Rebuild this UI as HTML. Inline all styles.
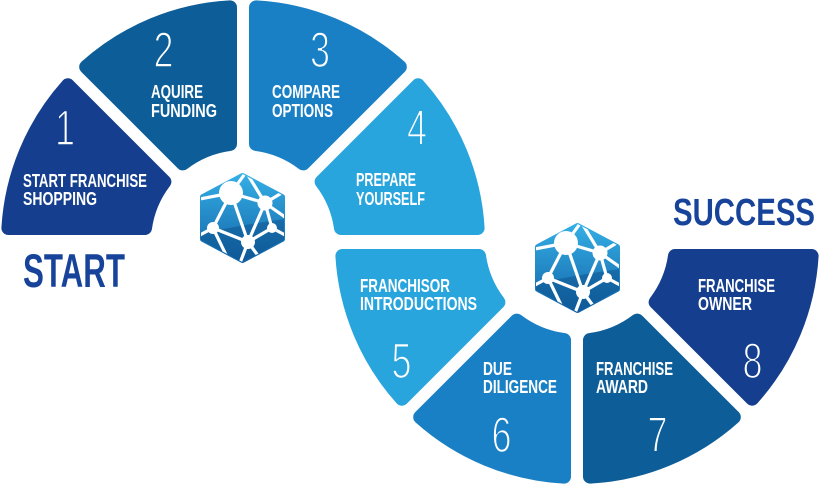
<!DOCTYPE html>
<html><head><meta charset="utf-8"><style>
html,body{margin:0;padding:0;background:#fff;}
svg{display:block;}
.lb{font-family:"Liberation Sans",Arial,sans-serif;font-weight:bold;font-size:18px;fill:#fff;}
.dg{font-family:"DejaVu Sans ExtraLight","Liberation Sans",sans-serif;font-size:50px;fill:#fff;stroke-width:1.6px;paint-order:fill stroke;}
.big{font-family:"Liberation Sans",Arial,sans-serif;font-weight:bold;fill:#17449a;}
</style></head><body>
<svg width="819" height="485" viewBox="0 0 819 485" xmlns="http://www.w3.org/2000/svg">
<defs>
 <linearGradient id="hg" x1="0" y1="0" x2="0" y2="90" gradientUnits="userSpaceOnUse">
  <stop offset="0" stop-color="#35b0e6"/>
  <stop offset="1" stop-color="#1262a6"/>
 </linearGradient>
 <clipPath id="hc"><polygon points="42.5,1 84,23 84,67 42.5,89 1,67 1,23"/></clipPath>
 <g id="hex">
  <polygon points="42.5,3 82,24 82,66 42.5,87 3,66 3,24" fill="url(#hg)" stroke="url(#hg)" stroke-width="6" stroke-linejoin="round"/>
  <path d="M0,61 Q40,52 85,46 L85,90 L0,90 Z" fill="#0b4f8c" opacity="0.5" clip-path="url(#hc)"/>
  <g stroke="#fff" stroke-width="3.2" stroke-linecap="round" fill="none" clip-path="url(#hc)">
   <line x1="31" y1="20" x2="13" y2="55"/>
   <line x1="31" y1="20" x2="48" y2="69"/>
   <line x1="65" y1="30" x2="48" y2="69"/>
   <line x1="65" y1="30" x2="72" y2="55"/>
   <line x1="13" y1="55" x2="48" y2="69"/>
   <line x1="48" y1="69" x2="72" y2="55"/>
   <line x1="31" y1="20" x2="65" y2="30"/>
   <line x1="31" y1="20" x2="0" y2="26"/>
   <line x1="31" y1="20" x2="44" y2="2"/>
   <line x1="48" y1="2" x2="65" y2="30"/>
   <line x1="65" y1="30" x2="80" y2="21"/>
   <line x1="65" y1="30" x2="85" y2="44"/>
   <line x1="72" y1="55" x2="85" y2="62"/>
   <line x1="13" y1="55" x2="0" y2="62"/>
   <line x1="48" y1="69" x2="40" y2="90"/>
   <line x1="48" y1="69" x2="62" y2="88"/>
   <line x1="13" y1="55" x2="28" y2="86"/>
  </g>
  <g fill="#fff">
   <circle cx="31" cy="20" r="12"/>
   <circle cx="65" cy="30" r="7.5"/>
   <circle cx="13" cy="55" r="6"/>
   <circle cx="48" cy="69" r="7"/>
   <circle cx="72" cy="55" r="5"/>
  </g>
 </g>
</defs>

<!-- top ring -->
<g stroke-width="14" stroke-linejoin="round">
 <path d="M 8.4 228 A 235 235 0 0 1 67.9 85.3 L 164.4 181.8 A 99 99 0 0 0 145 228 Z" fill="#153f8e" stroke="#153f8e"/>
 <path d="M 86.2 66.9 A 235 235 0 0 1 230 7.4 L 230 143.9 A 99 99 0 0 0 182.8 163.4 Z" fill="#0d5e98" stroke="#0d5e98"/>
 <path d="M 256 7.4 A 235 235 0 0 1 399.8 66.9 L 303.2 163.4 A 99 99 0 0 0 256 143.9 Z" fill="#1a80c5" stroke="#1a80c5"/>
 <path d="M 418.1 85.3 A 235 235 0 0 1 477.6 228 L 341 228 A 99 99 0 0 0 321.6 181.8 Z" fill="#29a5de" stroke="#29a5de"/>
</g>
<!-- bottom ring -->
<g stroke-width="14" stroke-linejoin="round">
 <path d="M 342.4 256 A 235 235 0 0 0 401.9 398.7 L 498.4 302.2 A 99 99 0 0 1 479 256 Z" fill="#29a5de" stroke="#29a5de"/>
 <path d="M 420.2 417.1 A 235 235 0 0 0 564 476.6 L 564 340.1 A 99 99 0 0 1 516.8 320.6 Z" fill="#1a80c5" stroke="#1a80c5"/>
 <path d="M 590 476.6 A 235 235 0 0 0 733.8 417.1 L 637.2 320.6 A 99 99 0 0 1 590 340.1 Z" fill="#0d5e98" stroke="#0d5e98"/>
 <path d="M 752.1 398.7 A 235 235 0 0 0 811.6 256 L 675 256 A 99 99 0 0 1 655.6 302.2 Z" fill="#153f8e" stroke="#153f8e"/>
</g>

<use href="#hex" transform="translate(200,173)"/>
<use href="#hex" transform="translate(535,223)"/>

<!-- digits -->
<text class="dg" stroke="#153f8e" text-anchor="middle" transform="translate(65,145) scale(0.72,1)">1</text>
<text class="dg" stroke="#0d5e98" text-anchor="middle" transform="translate(163.5,67) scale(0.72,1)">2</text>
<text class="dg" stroke="#1a80c5" text-anchor="middle" transform="translate(320,67) scale(0.72,1)">3</text>
<text class="dg" stroke="#29a5de" text-anchor="middle" transform="translate(417,145) scale(0.72,1)">4</text>
<text class="dg" stroke="#29a5de" text-anchor="middle" transform="translate(401.5,378) scale(0.72,1)">5</text>
<text class="dg" stroke="#1a80c5" text-anchor="middle" transform="translate(501.5,452) scale(0.72,1)">6</text>
<text class="dg" stroke="#0d5e98" text-anchor="middle" transform="translate(657.5,452) scale(0.72,1)">7</text>
<text class="dg" stroke="#153f8e" text-anchor="middle" transform="translate(752.5,378) scale(0.72,1)">8</text>

<!-- labels -->
<text class="lb" x="23" y="187" textLength="124" lengthAdjust="spacingAndGlyphs">START FRANCHISE</text>
<text class="lb" x="23" y="205" textLength="74" lengthAdjust="spacingAndGlyphs">SHOPPING</text>
<text class="lb" x="151" y="98" textLength="52" lengthAdjust="spacingAndGlyphs">AQUIRE</text>
<text class="lb" x="151" y="117" textLength="66" lengthAdjust="spacingAndGlyphs">FUNDING</text>
<text class="lb" x="272" y="98" textLength="68" lengthAdjust="spacingAndGlyphs">COMPARE</text>
<text class="lb" x="272" y="117" textLength="61" lengthAdjust="spacingAndGlyphs">OPTIONS</text>
<text class="lb" x="356" y="186" textLength="60" lengthAdjust="spacingAndGlyphs">PREPARE</text>
<text class="lb" x="356" y="205" textLength="69" lengthAdjust="spacingAndGlyphs">YOURSELF</text>
<text class="lb" x="360" y="292" textLength="90" lengthAdjust="spacingAndGlyphs">FRANCHISOR</text>
<text class="lb" x="360" y="310" textLength="117" lengthAdjust="spacingAndGlyphs">INTRODUCTIONS</text>
<text class="lb" x="483" y="375" textLength="29" lengthAdjust="spacingAndGlyphs">DUE</text>
<text class="lb" x="483" y="393" textLength="74" lengthAdjust="spacingAndGlyphs">DILIGENCE</text>
<text class="lb" x="596" y="375" textLength="77" lengthAdjust="spacingAndGlyphs">FRANCHISE</text>
<text class="lb" x="596" y="393" textLength="52" lengthAdjust="spacingAndGlyphs">AWARD</text>
<text class="lb" x="698" y="292" textLength="77" lengthAdjust="spacingAndGlyphs">FRANCHISE</text>
<text class="lb" x="698" y="310" textLength="54" lengthAdjust="spacingAndGlyphs">OWNER</text>

<!-- big words -->
<text class="big" x="23" y="287" font-size="47" textLength="102" lengthAdjust="spacingAndGlyphs">START</text>
<text class="big" x="673" y="225" font-size="38" textLength="142" lengthAdjust="spacingAndGlyphs">SUCCESS</text>
</svg>
</body></html>
